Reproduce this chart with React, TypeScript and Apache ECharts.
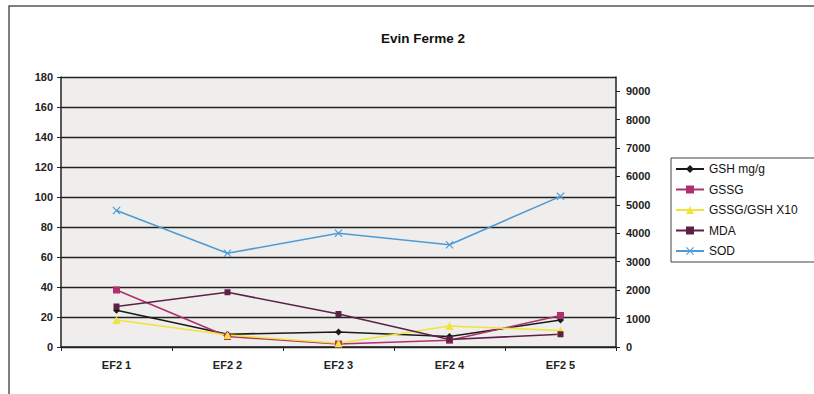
import React, { useEffect, useRef } from "react";
import * as echarts from "echarts";

const categories = ["EF2 1", "EF2 2", "EF2 3", "EF2 4", "EF2 5"];
const gshValues = [24.5, 8.5, 10, 7, 18];
const gssgValues = [38, 7, 2, 4.5, 21];
const ratioValues = [18, 8, 2.5, 14, 11];
const mdaValues = [27, 36.5, 22, 5, 8.5];
const sodValues = [4800, 3300, 4000, 3600, 5300];
const seriesNames = ["GSH mg/g", "GSSG", "GSSG/GSH X10", "MDA", "SOD"];

const FONT = "'Liberation Sans', Arial, sans-serif";
const crossPath =
  "path://M0,1L1,0L5,4L9,0L10,1L6,5L10,9L9,10L5,6L1,10L0,9L4,5Z";

export default function App() {
  const ref = useRef<HTMLDivElement>(null);
  useEffect(() => {
    if (!ref.current) return;
    const chart = echarts.init(ref.current, undefined, { renderer: "svg" });
    const mk = (
      name: string,
      data: number[],
      color: string,
      symbol: string,
      size: number,
      yAxisIndex = 0
    ) => ({
      name,
      type: "line",
      yAxisIndex,
      data,
      symbol,
      symbolSize: size,
      showAllSymbol: true,
      lineStyle: { color, width: 1.6 },
      itemStyle: { color },
      z: 3,
    });
    chart.setOption({
      animation: false,
      backgroundColor: "#ffffff",
      textStyle: { fontFamily: FONT },
      title: {
        text: "Evin Ferme 2",
        left: 418,
        top: 26,
        textAlign: "center",
        textStyle: { fontSize: 13.5, fontWeight: "bold", color: "#111", fontFamily: FONT },
      },
      graphic: [
        {
          type: "rect",
          shape: { x: 9, y: 6, width: 830, height: 420 },
          style: { fill: "none", stroke: "#555", lineWidth: 1.5 },
          z: -1,
        },
      ],
      legend: {
        data: seriesNames,
        orient: "vertical",
        left: 671,
        top: 158,
        borderColor: "#444",
        borderWidth: 1,
        padding: [5, 18, 5, 4],
        itemWidth: 28,
        itemHeight: 10,
        itemGap: 8.5,
        backgroundColor: "#fff",
        textStyle: { fontSize: 12, color: "#111", fontFamily: FONT },
      },
      grid: {
        left: 61,
        right: 198,
        top: 77,
        bottom: 47,
        show: true,
        backgroundColor: "#efeeec",
        borderWidth: 0,
      },
      xAxis: {
        type: "category",
        data: categories,
        boundaryGap: true,
        axisLine: { lineStyle: { color: "#222", width: 1.5 } },
        axisTick: { show: true, length: 4, lineStyle: { color: "#222" } },
        axisLabel: { fontSize: 11, fontWeight: "bold", color: "#222", margin: 12, fontFamily: FONT },
      },
      yAxis: [
        {
          type: "value",
          min: 0,
          max: 180,
          interval: 20,
          axisLine: { show: true, lineStyle: { color: "#222", width: 1.5 } },
          axisTick: { show: true, length: 4, lineStyle: { color: "#222" } },
          splitLine: { show: true, lineStyle: { color: "#222", width: 1.3 } },
          axisLabel: { fontSize: 11, fontWeight: "bold", color: "#222", margin: 8, fontFamily: FONT },
        },
        {
          type: "value",
          min: 0,
          max: 9500,
          interval: 1000,
          position: "right",
          axisLine: { show: true, lineStyle: { color: "#222", width: 1.5 } },
          axisTick: { show: true, length: 4, lineStyle: { color: "#222" } },
          splitLine: { show: false },
          axisLabel: {
            fontSize: 11,
            fontWeight: "bold",
            color: "#222",
            margin: 10,
            fontFamily: FONT,
            showMaxLabel: false,
            formatter: (v: number) => String(v),
          },
        },
      ],
      series: [
        mk(seriesNames[0], gshValues, "#1a1a1a", "diamond", 7),
        mk(seriesNames[1], gssgValues, "#b0306e", "rect", 7),
        mk(seriesNames[2], ratioValues, "#f0e33a", "triangle", 8),
        mk(seriesNames[3], mdaValues, "#5e2146", "rect", 6),
        mk(seriesNames[4], sodValues, "#4f9bd6", crossPath, 8, 1),
      ],
    });
    return () => chart.dispose();
  }, []);
  return (
    <div
      ref={ref}
      style={{ position: "fixed", left: 0, top: 0, width: 814, height: 394 }}
    />
  );
}
